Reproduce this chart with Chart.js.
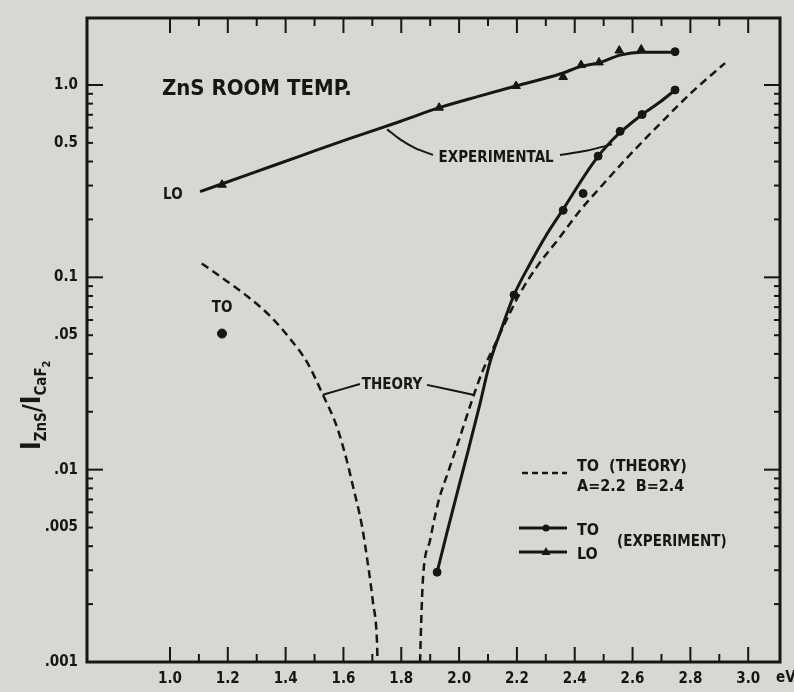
<!DOCTYPE html>
<html>
<head>
<meta charset="utf-8">
<script src="https://cdn.jsdelivr.net/npm/chart.js@4.4.0/dist/chart.umd.min.js"></script>
<style>
	html, body { margin: 0; padding: 0; background: #d8d7d2; }
	#wrap { width: 794px; height: 692px; }
</style>
</head>
<body>
<div id="wrap"><canvas id="chart" width="794" height="692"></canvas></div>
<script>
var ink = '#161616';
var paper = '#d8d7d2';
var fontFamily = '"DejaVu Sans Condensed", "DejaVu Sans", sans-serif';

// axis tick labels
var xTickValues = [1.0, 1.2, 1.4, 1.6, 1.8, 2.0, 2.2, 2.4, 2.6, 2.8, 3.0];
var yTickValues = [0.001, 0.005, 0.01, 0.05, 0.1, 0.5, 1.0];
var yTickLabels = ['.001', '.005', '.01', '.05', '0.1', '0.5', '1.0'];

// TO theory curve (A=2.2 B=2.4), two branches
var theoryLeftX = [1.11, 1.183, 1.266, 1.346, 1.415, 1.474, 1.529, 1.578, 1.612, 1.633, 1.664, 1.685, 1.702, 1.716, 1.718];
var theoryLeftY = [0.118, 0.0988, 0.080, 0.063, 0.048, 0.0362, 0.0245, 0.0166, 0.0111, 0.0082, 0.0051, 0.0032, 0.00205, 0.00128, 0.001];
var theoryRightX = [1.865, 1.869, 1.875, 1.900, 1.927, 1.965, 2.003, 2.042, 2.080, 2.118, 2.176, 2.211, 2.270, 2.349, 2.419, 2.488, 2.581, 2.696, 2.810, 2.920];
var theoryRightY = [0.001, 0.00162, 0.0027, 0.00432, 0.0067, 0.0100, 0.0148, 0.0223, 0.0322, 0.0428, 0.0654, 0.0828, 0.114, 0.162, 0.223, 0.293, 0.418, 0.631, 0.932, 1.30];

// experimental TO: fitted curve and measured points
var toCurveX = [1.924, 1.958, 1.993, 2.031, 2.069, 2.107, 2.142, 2.190, 2.246, 2.304, 2.360, 2.464, 2.529, 2.633, 2.696, 2.747];
var toCurveY = [0.00293, 0.0047, 0.00753, 0.0125, 0.0210, 0.0362, 0.0516, 0.0809, 0.118, 0.168, 0.226, 0.394, 0.516, 0.702, 0.818, 0.942];
var toPointX = [1.924, 2.190, 2.360, 2.429, 2.481, 2.557, 2.633, 2.747];
var toPointY = [0.00293, 0.0809, 0.223, 0.273, 0.427, 0.574, 0.702, 0.942];
var toLoneX = [1.180];
var toLoneY = [0.051];

// experimental LO: fitted curve and measured points
var loCurveX = [1.104, 1.277, 1.450, 1.623, 1.796, 1.931, 2.073, 2.197, 2.349, 2.422, 2.488, 2.557, 2.633, 2.747];
var loCurveY = [0.279, 0.345, 0.427, 0.528, 0.646, 0.762, 0.878, 0.988, 1.14, 1.25, 1.31, 1.43, 1.48, 1.48];
var loPointX = [1.180, 1.931, 2.197, 2.360, 2.422, 2.484, 2.554, 2.630];
var loPointY = [0.303, 0.762, 0.988, 1.10, 1.27, 1.31, 1.51, 1.53];
var loEndX = [2.747];
var loEndY = [1.49];

// leader lines from the labels to the curves
var leaders = [
	[[1.751, 0.588], [1.796, 0.522], [1.848, 0.470], [1.910, 0.433]],
	[[2.349, 0.433], [2.440, 0.455], [2.529, 0.492]],
	[[1.529, 0.0245], [1.657, 0.0279]],
	[[1.889, 0.0276], [2.048, 0.0245]]
];

// labels inside the plot (data units)
var notes = [
	{text: 'ZnS ROOM TEMP.', x: 0.972, y: 0.954, size: 22, align: 'left'},
	{text: 'LO', x: 1.010, y: 0.267, size: 15, align: 'center'},
	{text: 'EXPERIMENTAL', x: 2.128, y: 0.417, size: 15, align: 'center'},
	{text: 'THEORY', x: 1.768, y: 0.0276, size: 15, align: 'center'},
	{text: 'TO', x: 1.180, y: 0.0693, size: 15, align: 'center'}
];

function pts(xs, ys) {
	var out = [];
	for (var i = 0; i < xs.length; i++) out.push({x: xs[i], y: ys[i]});
	return out;
}

function font(size) {
	return 'bold ' + size + 'px ' + fontFamily;
}

var datasets = [
	{data: pts(theoryLeftX, theoryLeftY), showLine: true, borderColor: ink, borderWidth: 2.5, borderDash: [8, 5], pointRadius: 0, cubicInterpolationMode: 'monotone'},
	{data: pts(theoryRightX, theoryRightY), showLine: true, borderColor: ink, borderWidth: 2.5, borderDash: [8, 5], pointRadius: 0, cubicInterpolationMode: 'monotone'},
	{data: pts(toCurveX, toCurveY), showLine: true, borderColor: ink, borderWidth: 3, pointRadius: 0, cubicInterpolationMode: 'monotone'},
	{data: pts(loCurveX, loCurveY), showLine: true, borderColor: ink, borderWidth: 3, pointRadius: 0, cubicInterpolationMode: 'monotone'},
	{data: pts(toPointX, toPointY), showLine: false, backgroundColor: ink, borderColor: ink, pointRadius: 4, pointStyle: 'circle'},
	{data: pts(toLoneX, toLoneY), showLine: false, backgroundColor: ink, borderColor: ink, pointRadius: 4.5, pointStyle: 'circle'},
	{data: pts(loPointX, loPointY), showLine: false, backgroundColor: ink, borderColor: ink, pointRadius: 5, pointStyle: 'triangle'},
	{data: pts(loEndX, loEndY), showLine: false, backgroundColor: ink, borderColor: ink, pointRadius: 4, pointStyle: 'circle'}
];
leaders.forEach(function(l) {
	datasets.push({
		data: l.map(function(p) { return {x: p[0], y: p[1]}; }),
		showLine: true, borderColor: ink, borderWidth: 2, pointRadius: 0, tension: 0.3
	});
});

var decor = {
	id: 'decor',
	beforeDraw: function(chart) {
		var ctx = chart.ctx;
		ctx.save();
		ctx.fillStyle = paper;
		ctx.fillRect(0, 0, chart.width, chart.height);
		ctx.restore();
	},
	afterDraw: function(chart) {
		var ctx = chart.ctx, a = chart.chartArea;
		var xs = chart.scales.x, ys = chart.scales.y;
		ctx.save();
		ctx.strokeStyle = ink;
		ctx.fillStyle = ink;

		function seg(x1, y1, x2, y2) {
			ctx.beginPath(); ctx.moveTo(x1, y1); ctx.lineTo(x2, y2); ctx.stroke();
		}

		// frame
		ctx.lineWidth = 3;
		ctx.strokeRect(a.left, a.top, a.right - a.left, a.bottom - a.top);

		// x ticks, bottom and top, pointing in
		ctx.lineWidth = 2;
		for (var i = 10; i <= 30; i++) {
			var px = xs.getPixelForValue(i / 10);
			var len = (i % 2 == 0) ? 15 : 8;
			seg(px, a.bottom, px, a.bottom - len);
			seg(px, a.top, px, a.top + len);
		}
		// y ticks, left and right, pointing in
		[0.001, 0.01, 0.1].forEach(function(d) {
			for (var m = 1; m <= 9; m++) {
				var v = d * m;
				if (v <= 0.001) continue;
				var py = ys.getPixelForValue(v);
				var len = (m == 1) ? 16 : 6;
				seg(a.left, py, a.left + len, py);
				seg(a.right, py, a.right - len, py);
			}
		});
		var p1 = ys.getPixelForValue(1);
		seg(a.left, p1, a.left + 16, p1);
		seg(a.right, p1, a.right - 16, p1);

		// unit after the last x label
		ctx.font = font(15);
		ctx.textAlign = 'left';
		ctx.textBaseline = 'middle';
		ctx.fillText('eV', a.right - 4, a.bottom + 16);

		// labels in the plot
		notes.forEach(function(n) {
			ctx.font = font(n.size);
			ctx.textAlign = n.align;
			ctx.fillText(n.text, xs.getPixelForValue(n.x), ys.getPixelForValue(n.y));
		});

		// y axis title, rotated: I ZnS / I CaF2
		ctx.save();
		ctx.translate(40, 450);
		ctx.rotate(-Math.PI / 2);
		ctx.textAlign = 'left';
		ctx.textBaseline = 'alphabetic';
		var cx = 0;
		var parts = [
			{t: 'I', s: 26, dy: 0},
			{t: 'ZnS', s: 15, dy: 6},
			{t: '/', s: 24, dy: 0},
			{t: 'I', s: 26, dy: 0},
			{t: 'CaF', s: 15, dy: 6},
			{t: '2', s: 11, dy: 10}
		];
		parts.forEach(function(p) {
			ctx.font = font(p.s);
			ctx.fillText(p.t, cx, p.dy);
			cx += ctx.measureText(p.t).width;
		});
		ctx.restore();

		// legend block, lower right
		var lx = 519, lr = 567, tx = 577;
		ctx.lineWidth = 2.5;
		ctx.setLineDash([6, 4]);
		seg(lx + 3, 473, lr, 473);
		ctx.setLineDash([]);
		ctx.lineWidth = 3;
		seg(lx, 528, lr, 528);
		seg(lx, 552, lr, 552);
		ctx.beginPath(); ctx.arc(546, 528, 3.5, 0, Math.PI * 2); ctx.fill();
		ctx.beginPath(); ctx.moveTo(546, 547); ctx.lineTo(550.5, 555); ctx.lineTo(541.5, 555); ctx.closePath(); ctx.fill();
		ctx.font = font(16);
		ctx.textAlign = 'left';
		ctx.textBaseline = 'middle';
		ctx.fillText('TO  (THEORY)', tx, 467);
		ctx.fillText('A=2.2  B=2.4', tx, 487);
		ctx.fillText('TO', tx, 531);
		ctx.fillText('LO', tx, 555);
		ctx.font = font(15);
		ctx.fillText('(EXPERIMENT)', 617, 542);
		ctx.restore();
	}
};

var chart = new Chart(document.getElementById('chart'), {
	type: 'scatter',
	data: {datasets: datasets},
	plugins: [decor],
	options: {
		responsive: false,
		animation: false,
		layout: {padding: {left: 0, right: 14, top: 8, bottom: 0}},
		plugins: {
			legend: {display: false},
			tooltip: {enabled: false}
		},
		scales: {
			x: {
				type: 'linear',
				min: 0.713,
				max: 3.11,
				grid: {display: false, drawTicks: false},
				border: {display: false},
				afterBuildTicks: function(scale) {
					scale.ticks = xTickValues.map(function(v) { return {value: v}; });
				},
				afterFit: function(scale) { scale.height = 30; },
				ticks: {
					color: ink,
					padding: 8,
					maxRotation: 0,
					autoSkip: false,
					font: {family: fontFamily, size: 15, weight: 'bold'},
					callback: function(v) { return Number(v).toFixed(1); }
				}
			},
			y: {
				type: 'logarithmic',
				min: 0.001,
				max: 2.23,
				grid: {display: false, drawTicks: false},
				border: {display: false},
				afterBuildTicks: function(scale) {
					scale.ticks = yTickValues.map(function(v) { return {value: v}; });
				},
				afterFit: function(scale) { scale.width = 87; },
				ticks: {
					color: ink,
					padding: 9,
					autoSkip: false,
					font: {family: fontFamily, size: 15, weight: 'bold'},
					callback: function(v) {
						var k = yTickValues.indexOf(v);
						return k >= 0 ? yTickLabels[k] : '';
					}
				}
			}
		}
	}
});
</script>
</body>
</html>
